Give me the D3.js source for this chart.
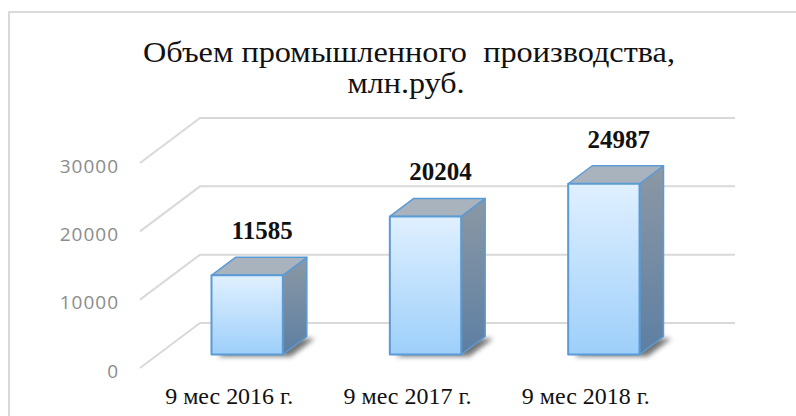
<!DOCTYPE html>
<html>
<head>
<meta charset="utf-8">
<script src="https://cdn.jsdelivr.net/npm/d3@7"></script>
<style>
    html, body { margin: 0; padding: 0; background: #ffffff; }
    svg { display: block; }
</style>
</head>
<body>
<svg id="chart" width="796" height="416"></svg>
<script>
// chart data
const categories = ['9 мес 2016 г.', '9 мес 2017 г.', '9 мес 2018 г.'];
const values = [11585, 20204, 24987];
const yTicks = [0, 10000, 20000, 30000];
const titleLines = ['Объем промышленного\u00a0 производства,', 'млн.руб.'];

const svg = d3.select('#chart');
const defs = svg.append('defs');

// 3d projection of the plot box: front plane + depth offset
const depth = { dx: 60, dy: 45 };
const plot = { left: 140, right: 675 };

const x = d3.scaleBand()
    .domain(categories)
    .range([plot.left, plot.right])
    .paddingInner(0.6)
    .paddingOuter(0.3);

const y = d3.scaleLinear()
    .domain([0, 30000])
    .range([368, 163]);

const proj = (px, v, z) => [px + z * depth.dx, y(v) - z * depth.dy];
const pts = arr => arr.map(p => p.join(',')).join(' ');

// frame
svg.append('rect')
    .attr('x', 9).attr('y', 12)
    .attr('width', 820).attr('height', 440)
    .attr('fill', 'none')
    .attr('stroke', '#d9d9d9')
    .attr('stroke-width', 2);

// title
svg.append('g').selectAll('text')
    .data(titleLines)
    .enter()
    .append('text')
    .attr('x', (d, i) => i === 0 ? 409 : 406)
    .attr('y', (d, i) => 62 + i * 31)
    .attr('text-anchor', 'middle')
    .attr('font-family', '"Liberation Serif", "Times New Roman", serif')
    .attr('font-size', 30)
    .attr('fill', '#111')
    .attr('textLength', (d, i) => i === 0 ? 532 : 117)
    .attr('lengthAdjust', 'spacingAndGlyphs')
    .text(d => d);

// gridlines: left wall diagonal + back wall
svg.append('g').selectAll('polyline')
    .data(yTicks)
    .enter()
    .append('polyline')
    .attr('points', v => pts([proj(plot.left, v, 0), proj(plot.left, v, 1), proj(plot.right, v, 1)]))
    .attr('fill', 'none')
    .attr('stroke', '#d9d9d9')
    .attr('stroke-width', 2);

// y axis labels
const yAxis = svg.append('g')
    .attr('transform', 'translate(121,3)')
    .call(d3.axisLeft(y).tickValues(yTicks).tickSize(0).tickPadding(2).tickFormat(d3.format('d')));
yAxis.select('.domain').remove();
yAxis.selectAll('text')
    .attr('font-family', '"Open Sans", sans-serif')
    .attr('font-size', 19)
    .attr('letter-spacing', 1)
    .attr('fill', '#8c8c8c');

// category labels on the front plane
const xAxis = svg.append('g')
    .attr('transform', 'translate(0,379)')
    .call(d3.axisBottom(x).tickSize(0).tickPadding(9));
xAxis.select('.domain').remove();
xAxis.selectAll('text')
    .attr('font-family', '"Liberation Serif", "Times New Roman", serif')
    .attr('font-size', 23)
    .attr('textLength', 128)
    .attr('lengthAdjust', 'spacingAndGlyphs')
    .attr('fill', '#111');

// gradients + shadow filter
const frontGrad = defs.append('linearGradient')
    .attr('id', 'front').attr('x1', 0).attr('y1', 0).attr('x2', 0).attr('y2', 1);
frontGrad.append('stop').attr('offset', '0%').attr('stop-color', '#e0f0ff');
frontGrad.append('stop').attr('offset', '100%').attr('stop-color', '#9dcffa');

const sideGrad = defs.append('linearGradient')
    .attr('id', 'side').attr('x1', 0).attr('y1', 0).attr('x2', 0).attr('y2', 1);
sideGrad.append('stop').attr('offset', '0%').attr('stop-color', '#8c98a4');
sideGrad.append('stop').attr('offset', '100%').attr('stop-color', '#5d7fa3');

defs.append('filter')
    .attr('id', 'blur')
    .attr('x', '-50%').attr('y', '-50%').attr('width', '200%').attr('height', '200%')
    .append('feGaussianBlur').attr('stdDeviation', 2.5);

// bars
const z0 = 0.3, z1 = 0.7;
const bars = svg.append('g').selectAll('g')
    .data(categories.map((c, i) => ({ cat: c, value: values[i] })))
    .enter()
    .append('g');

bars.append('polygon')
    .attr('class', 'shadow')
    .attr('points', d => {
        const a = x(d.cat) + 6, b = x(d.cat) + x.bandwidth() + 8;
        return pts([proj(a, 0, z0), proj(b, 0, z0), proj(b, 0, z1), proj(a, 0, z1)].map(p => [p[0], p[1] + 2]));
    })
    .attr('fill', '#3a3a3a')
    .attr('opacity', 0.7)
    .attr('filter', 'url(#blur)');

bars.append('polygon')
    .attr('points', d => {
        const r = x(d.cat) + x.bandwidth();
        return pts([proj(r, 0, z0), proj(r, d.value, z0), proj(r, d.value, z1), proj(r, 0, z1)]);
    })
    .attr('fill', 'url(#side)')
    .attr('stroke', '#5b9bd5')
    .attr('stroke-width', 1.5)
    .attr('stroke-linejoin', 'round');

bars.append('polygon')
    .attr('points', d => {
        const l = x(d.cat), r = l + x.bandwidth();
        return pts([proj(l, d.value, z0), proj(r, d.value, z0), proj(r, d.value, z1), proj(l, d.value, z1)]);
    })
    .attr('fill', '#a9b3bd')
    .attr('stroke', '#5b9bd5')
    .attr('stroke-width', 1.5)
    .attr('stroke-linejoin', 'round');

bars.append('polygon')
    .attr('points', d => {
        const l = x(d.cat), r = l + x.bandwidth();
        return pts([proj(l, 0, z0), proj(r, 0, z0), proj(r, d.value, z0), proj(l, d.value, z0)]);
    })
    .attr('fill', 'url(#front)')
    .attr('stroke', '#5b9bd5')
    .attr('stroke-width', 2)
    .attr('stroke-linejoin', 'round');

// value labels
bars.append('text')
    .attr('x', d => proj(x(d.cat) + x.bandwidth() / 2, d.value, 0.55)[0])
    .attr('y', d => proj(0, d.value, 0.5)[1] - 27)
    .attr('text-anchor', 'middle')
    .attr('font-family', '"Liberation Serif", "Times New Roman", serif')
    .attr('font-weight', 'bold')
    .attr('font-size', 25)
    .attr('fill', '#111')
    .text(d => d.value);
</script>
</body>
</html>
